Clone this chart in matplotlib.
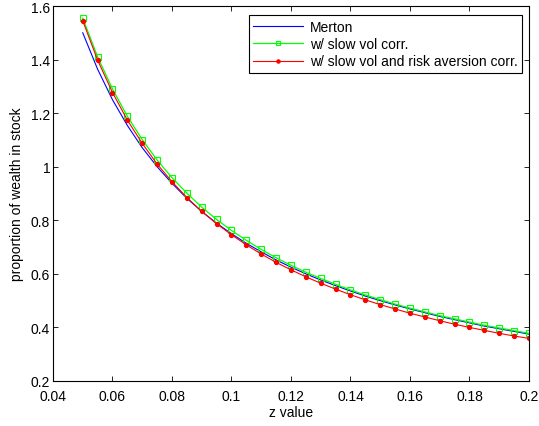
import matplotlib
matplotlib.use("Agg")
import matplotlib.pyplot as plt

plt.rcParams['font.family'] = ['Liberation Sans', 'DejaVu Sans']

z = [0.05, 0.055, 0.06, 0.065, 0.07, 0.075, 0.08, 0.085, 0.09, 0.095, 0.10,
     0.105, 0.11, 0.115, 0.12, 0.125, 0.13, 0.135, 0.14, 0.145, 0.15,
     0.155, 0.16, 0.165, 0.17, 0.175, 0.18, 0.185, 0.19, 0.195, 0.20]
merton = [1.500, 1.364, 1.250, 1.154, 1.071, 1.000, 0.938, 0.882, 0.833, 0.789, 0.750,
          0.714, 0.682, 0.652, 0.625, 0.600, 0.577, 0.556, 0.536, 0.517, 0.500,
          0.484, 0.469, 0.455, 0.441, 0.429, 0.417, 0.405, 0.395, 0.385, 0.375]
slow_vol = [1.555, 1.410, 1.290, 1.188, 1.101, 1.025, 0.959, 0.901, 0.849, 0.803, 0.762,
            0.725, 0.691, 0.660, 0.632, 0.606, 0.583, 0.561, 0.540, 0.521, 0.504,
            0.487, 0.472, 0.458, 0.444, 0.432, 0.420, 0.408, 0.398, 0.388, 0.378]
slow_vol_ra = [1.545, 1.398, 1.277, 1.174, 1.087, 1.010, 0.944, 0.885, 0.833, 0.787, 0.746,
               0.708, 0.674, 0.643, 0.615, 0.589, 0.565, 0.543, 0.522, 0.503, 0.485,
               0.469, 0.453, 0.439, 0.425, 0.412, 0.400, 0.389, 0.378, 0.368, 0.359]

labels = ['Merton', 'w/ slow vol corr.', 'w/ slow vol and risk aversion corr.']
xticks = [0.04, 0.06, 0.08, 0.1, 0.12, 0.14, 0.16, 0.18, 0.2]
xticklabels = ['0.04', '0.06', '0.08', '0.1', '0.12', '0.14', '0.16', '0.18', '0.2']
yticks = [0.2, 0.4, 0.6, 0.8, 1.0, 1.2, 1.4, 1.6]
yticklabels = ['0.2', '0.4', '0.6', '0.8', '1', '1.2', '1.4', '1.6']

fs = 10

fig = plt.figure(figsize=(5.39, 4.27), dpi=100)
ax = fig.add_axes([0.0983, 0.1054, 0.8831, 0.8782])

ax.plot(z, merton, color='#0000ff', lw=0.8, label=labels[0])
ax.plot(z, slow_vol, color='#00ff00', lw=0.9, marker='s', markersize=3.8,
        markerfacecolor='none', markeredgecolor='#00ff00', markeredgewidth=0.8, label=labels[1])
ax.plot(z, slow_vol_ra, color='#ff0000', lw=0.8, marker='o', markersize=2.8,
        markerfacecolor='#ff0000', markeredgecolor='#ff0000', label=labels[2])

ax.set_xlim(0.04, 0.2)
ax.set_ylim(0.2, 1.6)
ax.set_xticks(xticks)
ax.set_xticklabels(xticklabels)
ax.set_yticks(yticks)
ax.set_yticklabels(yticklabels)
ax.tick_params(direction='in', top=True, right=True, labelsize=fs, length=3.5, width=0.6)
ax.tick_params(axis='x', pad=6)
ax.tick_params(axis='y', pad=2)
for s in ax.spines.values():
    s.set_linewidth(0.8)

ax.set_xlabel('z value', fontsize=fs, labelpad=1.5)
ax.set_ylabel('proportion of wealth in stock', fontsize=fs, labelpad=5)

leg = ax.legend(loc='upper right', bbox_to_anchor=(0.985, 0.975), borderaxespad=0,
                fontsize=fs, fancybox=False, framealpha=1, edgecolor='black',
                handlelength=3.6, handletextpad=0.5, borderpad=0.3, labelspacing=0.25,
                markerscale=0.8)
leg.get_frame().set_linewidth(0.8)

fig.savefig('out.png', dpi=100)
